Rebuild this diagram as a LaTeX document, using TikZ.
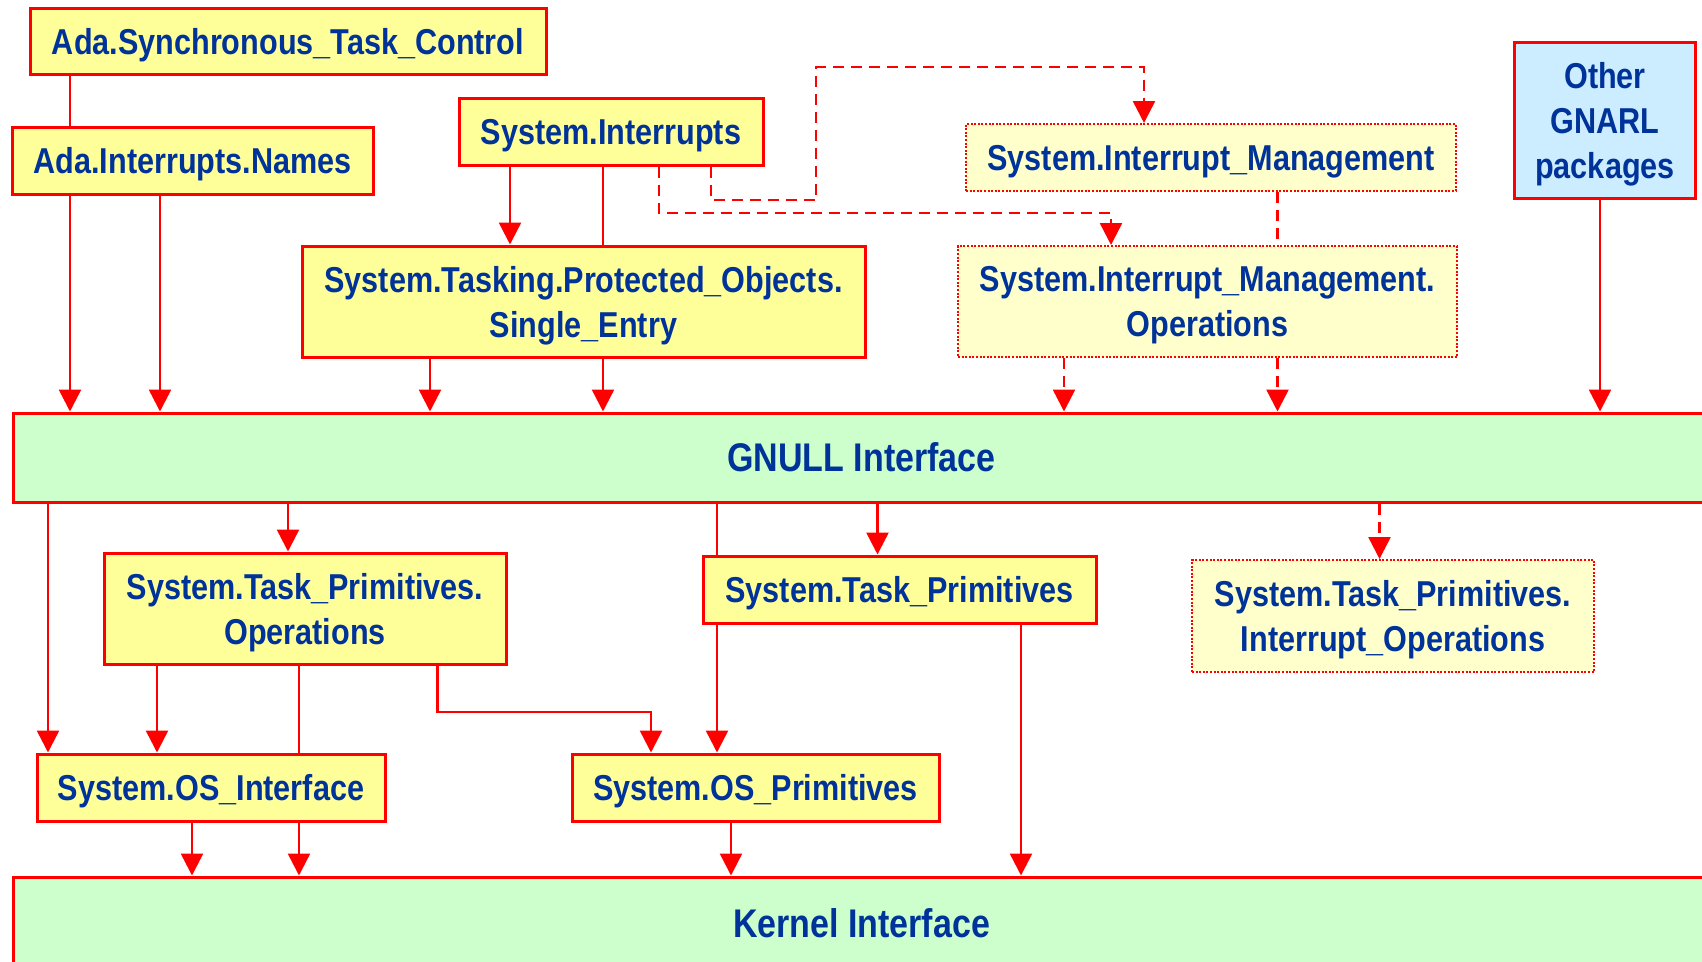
\documentclass[tikz,border=0pt]{standalone}
\usepackage{fontspec}
\setmainfont{Liberation Sans}[FakeStretch=0.85]
\usetikzlibrary{arrows.meta}

\definecolor{pkgred}{RGB}{255,0,0}
\definecolor{pkgyellow}{RGB}{255,255,153}
\definecolor{pkgpale}{RGB}{255,255,204}
\definecolor{pkggreen}{RGB}{204,255,204}
\definecolor{pkgblue}{RGB}{204,236,255}
\definecolor{pkgtext}{RGB}{0,51,153}

\tikzset{
  pkg/.style={draw=pkgred, line width=3pt, fill=pkgyellow, text=pkgtext,
    font=\fontsize{36}{45}\selectfont\bfseries, align=center, inner sep=0pt,
    text depth=0pt},
  optpkg/.style={pkg, fill=pkgpale, line width=2pt, dash pattern=on 2pt off 1.6pt},
  otherpkg/.style={pkg, fill=pkgblue},
  layer/.style={pkg, fill=pkggreen, font=\fontsize{40}{48}\selectfont\bfseries,
    text depth=-3pt},
  link/.style={draw=pkgred, line width=2.5pt},
  dep/.style={link, -{Triangle[width=22pt,length=22pt]}},
  optlink/.style={link, dash pattern=on 11pt off 7pt},
  optdep/.style={dep, dash pattern=on 11pt off 7pt},
}

\begin{document}
\begin{tikzpicture}[x=1pt, y=-1pt]
\useasboundingbox (0,0) rectangle (1702,961);
\clip (0,0) rectangle (1702,961);

% --- upper packages ---
\node[pkg, minimum width=516pt, minimum height=66pt] (sync) at (288,41) {Ada.Synchronous\_Task\_Control};
\node[pkg, minimum width=361pt, minimum height=67pt] (names) at (192.5,160.5) {Ada.Interrupts.Names};
\node[pkg, minimum width=304pt, minimum height=67pt] (sysint) at (611,131.5) {System.Interrupts};
\node[pkg, minimum width=563pt, minimum height=111pt] (single) at (583.5,301.5) {System.Tasking.Protected\_Objects.\\Single\_Entry};
\node[optpkg, minimum width=490pt, minimum height=67pt] (im) at (1211,157.5) {System.Interrupt\_Management};
\node[optpkg, minimum width=499pt, minimum height=111pt] (imops) at (1207.5,301.5) {System.Interrupt\_Management.\\Operations};
\node[otherpkg, minimum width=181pt, minimum height=156pt] (other) at (1605,120) {Other\\GNARL\\packages};

% --- interface layers ---
\node[layer, minimum width=1697pt, minimum height=89pt] (gnull) at (861.5,457.5) {GNULL Interface};
\node[layer, minimum width=1697pt, minimum height=91pt] (kernel) at (861.5,922.5) {Kernel Interface};

% --- lower packages ---
\node[pkg, minimum width=402pt, minimum height=111pt] (tpops) at (305,608.5) {System.Task\_Primitives.\\Operations};
\node[pkg, minimum width=393pt, minimum height=67pt] (tp) at (899.5,589.5) {System.Task\_Primitives};
\node[optpkg, minimum width=402pt, minimum height=112pt] (tpint) at (1393,616) {System.Task\_Primitives.\\Interrupt\_Operations};
\node[pkg, minimum width=348pt, minimum height=67pt] (osi) at (211,787.5) {System.OS\_Interface};
\node[pkg, minimum width=367pt, minimum height=67pt] (osp) at (755.5,787.5) {System.OS\_Primitives};

% --- dependencies above the GNULL interface ---
\draw[link] (70,0 |- sync.south) -- (70,0 |- names.north);
\draw[dep] (70,0 |- names.south) -- (70,0 |- gnull.north);
\draw[dep] (160,0 |- names.south) -- (160,0 |- gnull.north);
\draw[dep] (510,0 |- sysint.south) -- (510,0 |- single.north);
\draw[link] (603,0 |- sysint.south) -- (603,0 |- single.north);
\draw[dep] (430,0 |- single.south) -- (430,0 |- gnull.north);
\draw[dep] (603,0 |- single.south) -- (603,0 |- gnull.north);
\draw[optdep] (659,0 |- sysint.south) -- (659,213) -| (1111,0 |- imops.north);
\draw[optdep] (711,0 |- sysint.south) -- (711,200) -- (816,200) -- (816,67) -| (1144,0 |- im.north);
\draw[optlink] (1277.5,0 |- im.south) -- (1277.5,0 |- imops.north);
\draw[optdep] (1064,0 |- imops.south) -- (1064,0 |- gnull.north);
\draw[optdep] (1277.5,0 |- imops.south) -- (1277.5,0 |- gnull.north);
\draw[dep] (1600,0 |- other.south) -- (1600,0 |- gnull.north);

% --- dependencies below the GNULL interface ---
\draw[dep] (48,0 |- gnull.south) -- (48,0 |- osi.north);
\draw[dep] (288,0 |- gnull.south) -- (288,0 |- tpops.north);
\draw[link] (717,0 |- gnull.south) -- (717,0 |- tp.north);
\draw[dep] (877.5,0 |- gnull.south) -- (877.5,0 |- tp.north);
\draw[optdep] (1379.5,0 |- gnull.south) -- (1379.5,0 |- tpint.north);
\draw[dep] (157,0 |- tpops.south) -- (157,0 |- osi.north);
\draw[link] (299,0 |- tpops.south) -- (299,0 |- osi.north);
\draw[dep] (437.5,0 |- tpops.south) -- (437.5,712) -| (651,0 |- osp.north);
\draw[dep] (717,0 |- tp.south) -- (717,0 |- osp.north);
\draw[dep] (1021,0 |- tp.south) -- (1021,0 |- kernel.north);
\draw[dep] (192,0 |- osi.south) -- (192,0 |- kernel.north);
\draw[dep] (299,0 |- osi.south) -- (299,0 |- kernel.north);
\draw[dep] (731,0 |- osp.south) -- (731,0 |- kernel.north);
\end{tikzpicture}
\end{document}
